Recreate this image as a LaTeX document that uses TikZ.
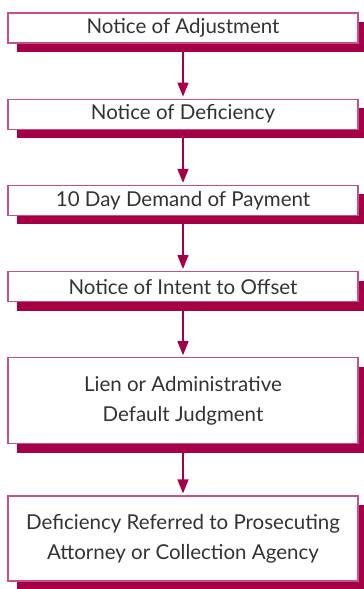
\documentclass[tikz,border=0pt]{standalone}
\usepackage{fontspec}
\setmainfont{Lato}
\usetikzlibrary{arrows.meta,positioning,shadows}
\definecolor{wine}{HTML}{A50046}
\definecolor{rosy}{HTML}{C8508A}
\definecolor{ink}{HTML}{333333}
\tikzset{%
        auto,
        node distance=55pt
}
\tikzstyle{stepbox}=[
    draw = rosy,
    line width = 1.2pt,
    fill = white,
    text = ink,
    minimum width = 350pt,
    minimum height = 30pt,
    align = center,
    font = \fontsize{20.5}{30}\selectfont,
    drop shadow = {shadow xshift=9pt, shadow yshift=-9pt, fill=wine, opacity=1}
]
\tikzstyle{flow}=[
    -{Triangle[length=14pt,width=11pt]},
    draw = wine,
    line width = 1.4pt,
    shorten > = 2pt
]

\begin{document}
\begin{tikzpicture}
            \useasboundingbox (0,0) rectangle (364pt,-589pt);
            \node[stepbox] (1) at (183pt,-28pt) {Notice of Adjustment};
            \node[stepbox, below=of 1] (2) {Notice of Deficiency};
            \node[stepbox, below=of 2] (3) {10 Day Demand of Payment};
            \node[stepbox, below=of 3] (4) {Notice of Intent to Offset};
            \node[stepbox, below=of 4, minimum height=86pt] (5) {Lien or Administrative\\Default Judgment};
            \node[stepbox, below=51pt of 5, minimum height=85pt] (6) {Deficiency Referred to Prosecuting\\Attorney or Collection Agency};
            \foreach \a/\b in {1/2,2/3,3/4,4/5,5/6}
                \draw[flow] (\a) -- (\b);
        \end{tikzpicture}
\end{document}
